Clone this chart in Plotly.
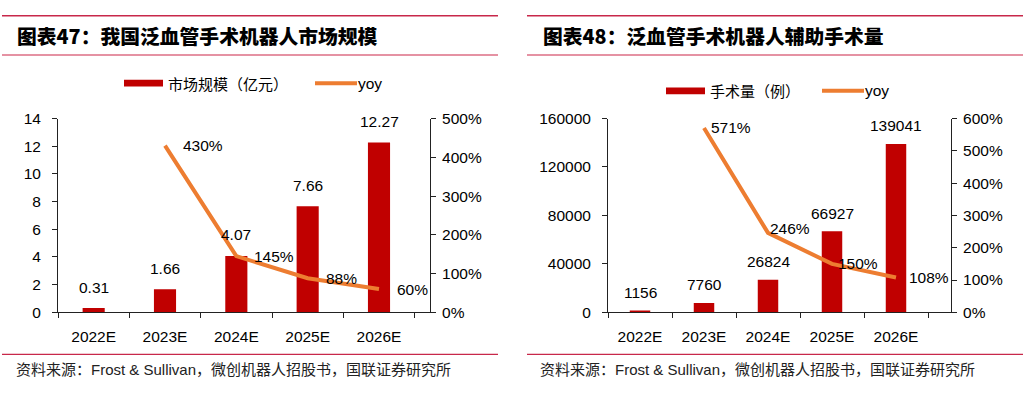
import plotly.graph_objects as go

# ---------------- data ----------------
years = ["2022E", "2023E", "2024E", "2025E", "2026E"]
market_size = [0.31, 1.66, 4.07, 7.66, 12.27]          # 亿元
market_yoy_years = ["2023E", "2024E", "2025E", "2026E"]
market_yoy = [430, 145, 88, 60]                         # %
surgeries = [1156, 7760, 26824, 66927, 139041]          # 例
surgery_yoy_years = ["2023E", "2024E", "2025E", "2026E"]
surgery_yoy = [571, 246, 150, 108]                      # %

title_left = "图表47：我国泛血管手术机器人市场规模"
title_right = "图表48：泛血管手术机器人辅助手术量"
legend_bar_left = "市场规模（亿元）"
legend_bar_right = "手术量（例）"
legend_line = "yoy"
source_text = "资料来源：Frost & Sullivan，微创机器人招股书，国联证券研究所"

# ---------------- style ----------------
W, H = 1029, 394
BAR = "#C00000"
LINE = "#ED7D31"
RULE_TOP = "#C8284A"
RULE_BOT = "#DC6E84"
LATIN = "Liberation Sans, Arial, Noto Sans CJK SC"
CJK = "Noto Sans CJK SC"
FS = 15.5

def px(x):
    return x / W

def py(y):
    return 1 - y / H

y_top, y_bot = 114.5, 317
left_dom = [px(58), px(430)]
right_dom = [px(608), px(951)]
ydom = [py(y_bot), py(y_top)]

fig = go.Figure()

# left chart
fig.add_trace(go.Bar(x=years, y=market_size, marker=dict(color=BAR, line=dict(width=0)),
                     width=0.31, xaxis="x", yaxis="y", showlegend=False, hoverinfo="skip"))
fig.add_trace(go.Scatter(x=market_yoy_years, y=market_yoy, mode="lines",
                         line=dict(color=LINE, width=4), xaxis="x", yaxis="y2",
                         showlegend=False, cliponaxis=False, hoverinfo="skip"))
# right chart
fig.add_trace(go.Bar(x=years, y=surgeries, marker=dict(color=BAR, line=dict(width=0)),
                     width=0.32, xaxis="x2", yaxis="y3", showlegend=False, hoverinfo="skip"))
fig.add_trace(go.Scatter(x=surgery_yoy_years, y=surgery_yoy, mode="lines",
                         line=dict(color=LINE, width=4), xaxis="x2", yaxis="y4",
                         showlegend=False, cliponaxis=False, hoverinfo="skip"))

axis_common = dict(showline=True, linecolor="#222", linewidth=1, ticks="outside",
                   ticklen=5, tickcolor="#222", showgrid=False, zeroline=False,
                   tickfont=dict(family=LATIN, size=FS, color="#000"), fixedrange=True)

fig.update_layout(
    width=W, height=H, autosize=False,
    margin=dict(l=0, r=0, t=0, b=0),
    paper_bgcolor="white", plot_bgcolor="white",
    showlegend=False,
    xaxis=dict(domain=left_dom, anchor="y", type="category", tickson="boundaries",
               ticklabelstandoff=10, **axis_common),
    yaxis=dict(domain=ydom, anchor="x", range=[0, 14], dtick=2, ticklabelstandoff=8,
               **axis_common),
    yaxis2=dict(overlaying="y", anchor="x", side="right", range=[0, 500], dtick=100,
                ticksuffix="%", ticklabelstandoff=3, **axis_common),
    xaxis2=dict(domain=right_dom, anchor="y3", type="category", tickson="boundaries",
                ticklabelstandoff=10, **axis_common),
    yaxis3=dict(domain=ydom, anchor="x2", range=[0, 160000], dtick=40000, tickformat="d",
                ticklabelstandoff=8, **axis_common),
    yaxis4=dict(overlaying="y3", anchor="x2", side="right", range=[0, 600], dtick=100,
                ticksuffix="%", ticklabelstandoff=3, **axis_common),
)

ann = []
shapes = []

# bar value labels
for xv, yv in zip(years, market_size):
    ann.append(dict(x=xv, y=yv, xref="x", yref="y", text=f"{yv:.2f}", showarrow=False,
                    yanchor="middle", yshift=21, font=dict(family=LATIN, size=FS, color="#000")))
for xv, yv in zip(years, surgeries):
    ann.append(dict(x=xv, y=yv, xref="x2", yref="y3", text=f"{yv}", showarrow=False,
                    yanchor="middle", yshift=18, font=dict(family=LATIN, size=FS, color="#000")))

# yoy labels
left_dx = [16, 16, 16, 16]
left_dy = [0, 0, 0, 0]
for xv, yv, dx, dy in zip(market_yoy_years, market_yoy, left_dx, left_dy):
    ann.append(dict(x=xv, y=yv, xref="x", yref="y2", text=f"{yv}%", showarrow=False,
                    xanchor="left", yanchor="middle", xshift=dx, yshift=dy,
                    font=dict(family=LATIN, size=FS, color="#000")))
right_dx = [5, 0, 4, 11]
right_dy = [0, 4, 0, 0]
for xv, yv, dx, dy in zip(surgery_yoy_years, surgery_yoy, right_dx, right_dy):
    ann.append(dict(x=xv, y=yv, xref="x2", yref="y4", text=f"{yv}%", showarrow=False,
                    xanchor="left", yanchor="middle", xshift=dx, yshift=dy,
                    font=dict(family=LATIN, size=FS, color="#000")))

# titles
for x0, t in [(15, title_left), (541, title_right)]:
    ann.append(dict(x=px(x0), y=py(28), xref="paper", yref="paper", text=t,
                    showarrow=False, xanchor="left", yanchor="middle",
                    font=dict(family=CJK, size=19.8, color="#000", weight=900)))

# title / footer rules
for (a, b) in [(2, 498), (527, 1023)]:
    shapes.append(dict(type="line", xref="paper", yref="paper", x0=px(a), x1=px(b),
                       y0=py(7), y1=py(7), line=dict(color=RULE_TOP, width=1.5)))
    shapes.append(dict(type="line", xref="paper", yref="paper", x0=px(a), x1=px(b),
                       y0=py(48), y1=py(48), line=dict(color=RULE_BOT, width=1.5)))
    shapes.append(dict(type="line", xref="paper", yref="paper", x0=px(a), x1=px(b),
                       y0=py(361), y1=py(361), line=dict(color=RULE_TOP, width=1.2)))

# footers
for x0 in [14, 538]:
    ann.append(dict(x=px(x0), y=py(377), xref="paper", yref="paper", text=source_text,
                    showarrow=False, xanchor="left", yanchor="middle",
                    font=dict(family="Liberation Sans, Noto Sans CJK SC", size=15, color="#222")))

# manual legends
def legend(bar_x0, ly, bar_label, line_x0, yoy_x):
    shapes.append(dict(type="rect", xref="paper", yref="paper", x0=px(bar_x0), x1=px(bar_x0 + 39),
                       y0=py(ly + 3.5), y1=py(ly - 3.5), fillcolor=BAR, line=dict(width=0)))
    ann.append(dict(x=px(bar_x0 + 42), y=py(ly), xref="paper", yref="paper", text=bar_label,
                    showarrow=False, xanchor="left", yanchor="middle",
                    font=dict(family=CJK, size=15, color="#000")))
    shapes.append(dict(type="line", xref="paper", yref="paper", x0=px(line_x0), x1=px(line_x0 + 42),
                       y0=py(ly), y1=py(ly), line=dict(color=LINE, width=4)))
    ann.append(dict(x=px(yoy_x), y=py(ly), xref="paper", yref="paper", text=legend_line,
                    showarrow=False, xanchor="left", yanchor="middle",
                    font=dict(family=LATIN, size=FS, color="#000")))

legend(124, 77.5, legend_bar_left, 315, 356)
legend(666, 85.5, legend_bar_right, 822, 863)

fig.update_layout(annotations=ann, shapes=shapes)
fig.write_html("out.html", config={"displayModeBar": False},
               post_script="document.body.style.margin='0px';")
